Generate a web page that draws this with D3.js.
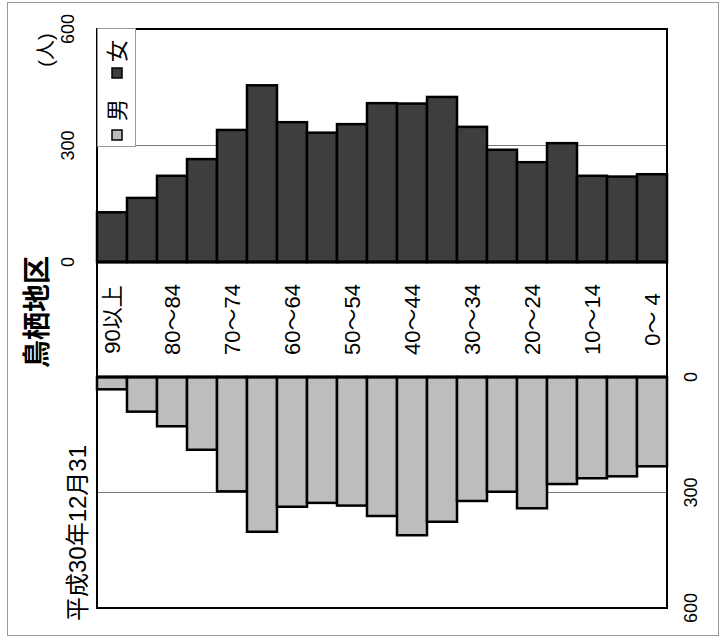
<!DOCTYPE html>
<html><head><meta charset="utf-8">
<script src="https://cdn.jsdelivr.net/npm/d3@7"></script>
<style>
html,body{margin:0;padding:0;background:#fff;}
svg{display:block;}
text{font-family:"Liberation Sans","Noto Sans CJK JP",sans-serif;fill:#000;}
</style></head>
<body>
<svg id="chart" width="728" height="643"></svg>
<script>
const categories = ["90以上","85～89","80～84","75～79","70～74","65～69","60～64","55～59","50～54","45～49","40～44","35～39","30～34","25～29","20～24","15～19","10～14","5～9","0～4"];
const shownLabels = ["90以上","80～84","70～74","60～64","50～54","40～44","30～34","20～24","10～14","0～ 4"];
const female = [128,165,222,265,340,455,360,333,355,409,408,425,348,289,257,306,222,220,226];
const male   = [32,90,128,189,297,402,337,327,334,361,411,376,322,298,341,278,263,258,232];
const tickValues = [0,300,600];
const title = "鳥栖地区";
const dateLabel = "平成30年12月31";
const unitLabel = "(人)";
const legendNames = ["男","女"];

const svg = d3.select("#chart");
const L = 97, R = 667, T = 29, FB = 262, MB = 377, B = 608;

const x = d3.scaleBand().domain(categories).range([L, R]).padding(0);
const yF = d3.scaleLinear().domain([0,600]).range([FB, T]);
const yM = d3.scaleLinear().domain([0,600]).range([MB, B]);

// outer border
svg.append("rect").attr("x",7.5).attr("y",2.5).attr("width",711).attr("height",633)
  .attr("fill","none").attr("stroke","#999").attr("stroke-width",1);

// gridlines at 300
svg.append("line").attr("x1",L).attr("x2",R).attr("y1",yF(300)).attr("y2",yF(300)).attr("stroke","#777").attr("stroke-width",1);
svg.append("line").attr("x1",L).attr("x2",R).attr("y1",yM(300)).attr("y2",yM(300)).attr("stroke","#777").attr("stroke-width",1);

// female bars
svg.append("g").selectAll("rect").data(female).join("rect")
  .attr("x",(d,i)=>x(categories[i]))
  .attr("width",x.bandwidth())
  .attr("y",d=>yF(d))
  .attr("height",d=>yF(0)-yF(d))
  .attr("fill","#3e3e3e").attr("stroke","#000").attr("stroke-width",2.5);

// male bars
svg.append("g").selectAll("rect").data(male).join("rect")
  .attr("x",(d,i)=>x(categories[i]))
  .attr("width",x.bandwidth())
  .attr("y",yM(0))
  .attr("height",d=>yM(d)-yM(0))
  .attr("fill","#bdbdbd").attr("stroke","#000").attr("stroke-width",2.5);

// frame
svg.append("rect").attr("x",L).attr("y",T).attr("width",R-L).attr("height",B-T)
  .attr("fill","none").attr("stroke","#000").attr("stroke-width",2);
svg.append("line").attr("x1",L).attr("x2",R).attr("y1",FB).attr("y2",FB).attr("stroke","#000").attr("stroke-width",3);
svg.append("line").attr("x1",L).attr("x2",R).attr("y1",MB).attr("y2",MB).attr("stroke","#000").attr("stroke-width",3);

function rtext(g, px, py, str, size, weight){
  return g.append("text").attr("transform",`translate(${px},${py}) rotate(-90)`)
    .attr("text-anchor","middle").attr("dominant-baseline","central")
    .style("font-size",size+"px").style("font-weight",weight||"normal").text(str);
}

// value tick labels (rotated) positioned with the scales
const tickG = svg.append("g");
tickValues.forEach(v=>{
  rtext(tickG, L-29, yF(v), String(v), 18);
  rtext(tickG, R+24, yM(v), String(v), 18);
});

// category labels
const labG = svg.append("g");
categories.forEach((c,i)=>{
  if(i%2===0){
    rtext(labG, x(c)+x.bandwidth()/2, (FB+MB)/2, shownLabels[i/2], 22);
  }
});

// title & date
rtext(svg, 37, 312, title, 28, "bold");
rtext(svg, 77, 533, dateLabel, 24);
rtext(svg, 46, 50, unitLabel, 20);

// legend
const lg = svg.append("g");
lg.append("rect").attr("x",97.5).attr("y",28.5).attr("width",38).attr("height",118)
  .attr("fill","#fff").attr("stroke","#999").attr("stroke-width",1);
lg.append("rect").attr("x",112).attr("y",130).attr("width",10).attr("height",10)
  .attr("fill","#bdbdbd").attr("stroke","#000").attr("stroke-width",1.5);
rtext(lg, 117, 110, legendNames[0], 22);
lg.append("rect").attr("x",112).attr("y",68).attr("width",10).attr("height",10)
  .attr("fill","#3e3e3e").attr("stroke","#000").attr("stroke-width",1.5);
rtext(lg, 117, 51, legendNames[1], 22);
</script>
</body></html>
